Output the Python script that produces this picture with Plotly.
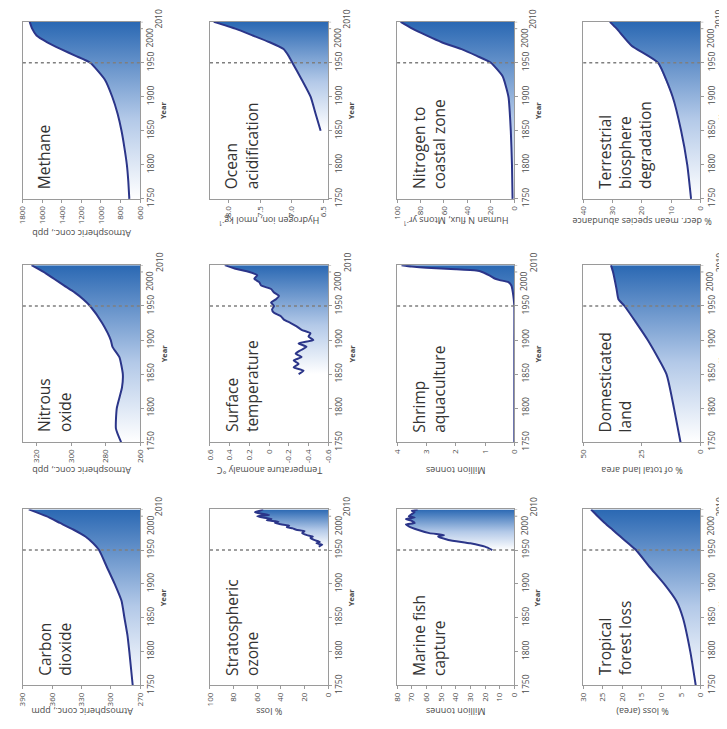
import plotly.graph_objects as go

W, H = 727, 729

# ---------------- data ----------------
methane_years = [1750, 1775, 1800, 1825, 1850, 1875, 1900, 1925, 1950, 1960, 1970, 1980, 1990, 2000, 2010]
methane = [710, 720, 735, 760, 790, 830, 885, 960, 1110, 1260, 1410, 1550, 1660, 1705, 1730]

ocean_years = [1850, 1875, 1900, 1925, 1950, 1960, 1970, 1980, 1990, 2000, 2010]
ocean = [6.54, 6.62, 6.70, 6.84, 6.99, 7.05, 7.13, 7.35, 7.62, 7.90, 8.24]

nitrogen_years = [1750, 1800, 1850, 1900, 1930, 1950, 1960, 1970, 1980, 1990, 2000, 2010]
nitrogen = [1.5, 2, 3, 5, 10, 20, 32, 45, 62, 75, 87, 97]

terr_years = [1750, 1800, 1850, 1900, 1950, 1975, 2000, 2010]
terr = [3.2, 4.5, 6.6, 9.5, 14.5, 23.5, 28.6, 30.9]

n2o_years = [1750, 1770, 1800, 1830, 1850, 1875, 1890, 1900, 1925, 1950, 1960, 1970, 1980, 1990, 2000, 2010]
n2o = [271, 274, 273.5, 270.5, 270, 272, 276, 277, 282, 289, 293, 298, 304, 310, 316, 323]

temp_years = [1850, 1855, 1860, 1865, 1870, 1875, 1880, 1885, 1890, 1895, 1900, 1905, 1910, 1915, 1920,
              1925, 1930, 1935, 1940, 1945, 1950, 1955, 1960, 1965, 1970, 1975, 1980, 1985, 1990,
              1995, 2000, 2005, 2010]
temp = [-0.30, -0.35, -0.25, -0.30, -0.25, -0.33, -0.27, -0.32, -0.38, -0.30, -0.45, -0.40, -0.42,
        -0.33, -0.28, -0.22, -0.15, -0.12, -0.05, -0.03, -0.05, -0.02, -0.07, -0.10, -0.05, -0.02,
        0.08, 0.10, 0.15, 0.12, 0.20, 0.35, 0.45]

shrimp_years = [1750, 1800, 1850, 1900, 1950, 1960, 1970, 1975, 1980, 1985, 1988, 1990, 1995, 2000,
                2002, 2004, 2006, 2008, 2010]
shrimp = [0, 0, 0, 0, 0, 0.02, 0.05, 0.07, 0.1, 0.2, 0.5, 0.65, 0.85, 1.1, 1.3, 2.0, 3.0, 3.5, 3.85]

domland_years = [1750, 1800, 1850, 1900, 1950, 1960, 1975, 2000, 2010]
domland = [8.5, 11.3, 14.5, 22.5, 32.4, 35, 35.8, 37.3, 38.2]

co2_years = [1750, 1800, 1825, 1850, 1875, 1900, 1925, 1950, 1960, 1970, 1980, 1990, 2000, 2010]
co2 = [277.5, 281, 283, 286, 289, 296, 304, 312, 318, 326, 338, 352, 366, 384]

ozone_years = [1955, 1958, 1960, 1962, 1965, 1968, 1970, 1972, 1975, 1978, 1980, 1982, 1984, 1986,
               1988, 1990, 1992, 1994, 1996, 1998, 2000, 2002, 2004, 2006, 2008, 2010]
ozone = [8, 5, 10, 7, 12, 15, 13, 18, 22, 20, 27, 30, 35, 33, 40, 45, 42, 52, 48, 55, 60, 50, 57, 62, 58, 55]

fish_years = [1950, 1955, 1960, 1965, 1970, 1972, 1975, 1980, 1985, 1988, 1990, 1993, 1996, 1998,
              2000, 2003, 2006, 2008, 2010]
fish = [15, 20, 30, 45, 52, 48, 58, 66, 72, 74, 68, 70, 74, 68, 72, 70, 68, 70, 66]

tropical_years = [1750, 1800, 1850, 1875, 1900, 1925, 1950, 1960, 1970, 1980, 1990, 2000, 2010]
tropical = [1.2, 2.6, 4.5, 6.2, 9.3, 13, 16.5, 18.5, 20.5, 22.5, 24.5, 26.3, 28]

year_ticks = [1750, 1800, 1850, 1900, 1950, 2000, 2010]

# (label, years, values, value range [left,right], value ticks, tick text, axis title, row, col)
panels = [
    ("Methane", methane_years, methane, [1800, 600], [1800, 1600, 1400, 1200, 1000, 800, 600],
     None, "Atmospheric conc., ppb", 0, 0),
    ("Ocean<br>acidification", ocean_years, ocean, [8.3, 6.42], [8.0, 7.5, 7.0, 6.5],
     ["8.0", "7.5", "7.0", "6.5"], "Hydrogen ion, nmol kg<sup>-1</sup>", 0, 1),
    ("Nitrogen to<br>coastal zone", nitrogen_years, nitrogen, [100, 0], [100, 80, 60, 40, 20, 0],
     None, "Human N flux, Mtons yr<sup>-1</sup>", 0, 2),
    ("Terrestrial<br>biosphere<br>degradation", terr_years, terr, [40, 0], [40, 30, 20, 10, 0],
     None, "% decr. mean species abundance", 0, 3),
    ("Nitrous<br>oxide", n2o_years, n2o, [328, 260], [320, 300, 280, 260],
     None, "Atmospheric conc., ppb", 1, 0),
    ("Surface<br>temperature", temp_years, temp, [0.6, -0.6], [0.6, 0.4, 0.2, 0, -0.2, -0.4, -0.6],
     ["0.6", "0.4", "0.2", "0", "-0.2", "-0.4", "-0.6"], "Temperature anomaly °C", 1, 1),
    ("Shrimp<br>aquaculture", shrimp_years, shrimp, [4, 0], [4, 3, 2, 1, 0],
     None, "Million tonnes", 1, 2),
    ("Domesticated<br>land", domland_years, domland, [50, 0], [50, 25, 0],
     None, "% of total land area", 1, 3),
    ("Carbon<br>dioxide", co2_years, co2, [390, 270], [390, 360, 330, 300, 270],
     None, "Atmospheric conc., ppm", 2, 0),
    ("Stratospheric<br>ozone", ozone_years, ozone, [100, 0], [100, 80, 60, 40, 20, 0],
     None, "% loss", 2, 1),
    ("Marine fish<br>capture", fish_years, fish, [80, 0], [80, 70, 60, 50, 40, 30, 20, 10, 0],
     None, "Million tonnes", 2, 2),
    ("Tropical<br>forest loss", tropical_years, tropical, [30, 0], [30, 25, 20, 15, 10, 5, 0],
     None, "% loss (area)", 2, 3),
]

# ---------------- layout geometry (pixels) ----------------
COLS = [(9, 128), (199, 319), (389, 508), (578, 697)]
ROWS = [(14, 193), (260, 439), (507, 685)]
TITLE_OFF = {0: 23, 1: 28, 2: 27}
YEAR_OFF = [24, 24, 24, 21]

LINE = "#2b3589"
AXC = "#9a9a9a"
TXT = "#4a4a4a"
FONT = "Open Sans"
GRAD = [[0, "#ffffff"], [0.45, "#b3c9e8"], [1, "#2a68b3"]]


def px_x(px):
    return px / W


def px_y(py):
    return 1 - py / H


fig = go.Figure()
layout = dict(
    width=W, height=H, margin=dict(l=0, r=0, t=0, b=0),
    paper_bgcolor="white", plot_bgcolor="white", showlegend=False,
    font=dict(family=FONT, color=TXT),
)
annotations = []
shapes = []

for i, (label, yrs, vals, rng, vt, vtt, vtitle, r, c) in enumerate(panels):
    n = i + 1
    xa = "x" if n == 1 else f"x{n}"
    ya = "y" if n == 1 else f"y{n}"
    x0, x1 = COLS[c]
    y0, y1 = ROWS[r]
    base = rng[1]

    fig.add_trace(go.Scatter(
        x=list(vals) + [base, base], y=list(yrs) + [yrs[-1], yrs[0]],
        fill="toself", mode="none",
        fillgradient=dict(type="vertical", colorscale=GRAD),
        xaxis=xa, yaxis=ya, hoverinfo="skip"))
    fig.add_trace(go.Scatter(
        x=vals, y=yrs, mode="lines",
        line=dict(color=LINE, width=2, shape="spline", smoothing=0.5),
        xaxis=xa, yaxis=ya, hoverinfo="skip"))

    layout[f"xaxis{n}"] = dict(
        domain=[px_x(x0), px_x(x1)], anchor=ya, range=rng,
        tickmode="array", tickvals=vt, ticktext=vtt if vtt else [str(v) for v in vt],
        tickangle=-90, showline=True, mirror=True, linecolor=AXC, linewidth=1,
        ticks="outside", ticklen=3, tickcolor=AXC, showgrid=False, zeroline=False,
        tickfont=dict(size=8, color=TXT, family=FONT), fixedrange=True)
    layout[f"yaxis{n}"] = dict(
        domain=[px_y(y1), px_y(y0)], anchor=xa, range=[1750, 2010], side="right",
        tickmode="array", tickvals=year_ticks[:-2],
        ticktext=[str(t) for t in year_ticks[:-2]],
        tickangle=-90, showline=True, mirror=True, linecolor=AXC, linewidth=1,
        ticks="outside", ticklen=3, tickcolor=AXC, showgrid=False, zeroline=False,
        tickfont=dict(size=8.5, color=TXT, family=FONT), fixedrange=True)

    # tick marks for 2000 and 2010 (labels drawn staggered below)
    for yt in year_ticks[-2:]:
        shapes.append(dict(type="line", xref=f"{xa} domain", yref=ya, x0=1, x1=1.025,
                           y0=yt, y1=yt, line=dict(color=AXC, width=1)))

    # 1950 dotted marker
    shapes.append(dict(type="line", xref=f"{xa} domain", yref=ya, x0=0, x1=1, y0=1950, y1=1950,
                       line=dict(color="#7f7f7f", width=1.6, dash="dot")))

    # panel label
    annotations.append(dict(text=label, xref="paper", yref="paper",
                            x=px_x(x0 + 9), y=px_y(y1 - 8), xanchor="left", yanchor="bottom",
                            textangle=-90, showarrow=False, align="left",
                            font=dict(size=15.5, color="#333333", family=FONT)))
    # value axis title (upside down)
    off = 35 if (r == 0 and c == 0) else TITLE_OFF[r]
    annotations.append(dict(text=vtitle, xref="paper", yref="paper",
                            x=px_x((x0 + x1) / 2), y=px_y(y1 + off), xanchor="center", yanchor="middle",
                            textangle=180, showarrow=False,
                            font=dict(size=9, color=TXT, family=FONT)))
    # Year title
    annotations.append(dict(text="<b>Year</b>", xref="paper", yref="paper",
                            x=px_x(x1 + YEAR_OFF[c]), y=px_y((y0 + y1) / 2), xanchor="center",
                            yanchor="middle", textangle=-90, showarrow=False, borderpad=0,
                            font=dict(size=7.5, color=TXT, family=FONT)))
    # staggered 2000 / 2010 labels
    annotations.append(dict(text=str(year_ticks[-2]), xref="paper", yref=ya, x=px_x(x1 + 10),
                            y=year_ticks[-2], yshift=-9, xanchor="center", yanchor="middle",
                            textangle=-90, showarrow=False,
                            font=dict(size=8.5, color=TXT, family=FONT)))
    annotations.append(dict(text=str(year_ticks[-1]), xref="paper", yref=ya, x=px_x(x1 + 19),
                            y=year_ticks[-1], yshift=3, xanchor="center", yanchor="middle",
                            textangle=-90, showarrow=False,
                            font=dict(size=8.5, color=TXT, family=FONT)))

layout["annotations"] = annotations
layout["shapes"] = shapes
fig.update_layout(**layout)
fig.write_html("out.html")
